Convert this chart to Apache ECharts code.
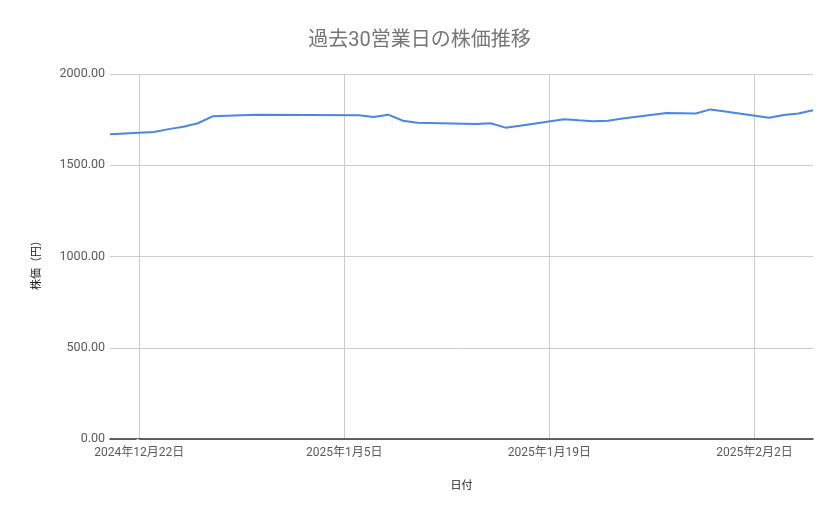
<!DOCTYPE html>
<html>
<head>
<meta charset="utf-8">
<script src="https://cdn.jsdelivr.net/npm/echarts@6/dist/echarts.min.js"></script>
<style>
html,body{margin:0;padding:0;background:#fff;}
#chart{width:839px;height:519px;}
</style>
</head>
<body>
<div id="chart"></div>
<script>
const titleText = '過去30営業日の株価推移';
const xAxisName = '日付';
const yAxisName = '株価（円）';
const dates = ['2024-12-20','2024-12-23','2024-12-24','2024-12-25','2024-12-26','2024-12-27','2024-12-30',
  '2025-01-06','2025-01-07','2025-01-08','2025-01-09','2025-01-10','2025-01-14','2025-01-15','2025-01-16','2025-01-17',
  '2025-01-20','2025-01-21','2025-01-22','2025-01-23','2025-01-24','2025-01-27','2025-01-28','2025-01-29','2025-01-30','2025-01-31',
  '2025-02-03','2025-02-04','2025-02-05','2025-02-06'];
const prices = [1670,1682,1698,1711,1730,1768,1777,
  1774,1764,1777,1744,1733,1726,1730,1706,1717,
  1752,1746,1741,1744,1756,1786,1785,1784,1806,1795,
  1760,1775,1784,1801];
const tickDates = ['2024-12-22','2025-01-05','2025-01-19','2025-02-02'];
const axisStart = '2024-12-20';
const axisEnd = '2025-02-06';
const yTicks = [0, 500, 1000, 1500, 2000];

const DAY = 86400000;
const origin = Date.UTC(2024, 11, 22);
function toDay(s) {
  const p = s.split('-').map(Number);
  return Math.round((Date.UTC(p[0], p[1] - 1, p[2]) - origin) / DAY);
}
function fmtDay(v) {
  const d = new Date(origin + v * DAY);
  return d.getUTCFullYear() + '年' + (d.getUTCMonth() + 1) + '月' + d.getUTCDate() + '日';
}
const seriesData = dates.map((d, i) => [toDay(d), prices[i]]);
const tickValues = tickDates.map(toDay);

const FONT = 'Roboto, "Noto Sans CJK JP", sans-serif';
const chart = echarts.init(document.getElementById('chart'));
chart.setOption({
  animation: false,
  textStyle: { fontFamily: FONT },
  title: {
    text: titleText,
    left: 'center',
    top: 26,
    textStyle: { fontSize: 20, fontWeight: 'normal', color: '#757575', fontFamily: FONT }
  },
  grid: { left: 110, right: 26, top: 74, bottom: 80, containLabel: false },
  xAxis: {
    type: 'value',
    min: toDay(axisStart),
    max: toDay(axisEnd),
    name: xAxisName,
    nameLocation: 'middle',
    nameGap: 42,
    nameTextStyle: { fontSize: 11, color: '#222' },
    axisLine: { show: true, lineStyle: { color: '#333', width: 1.5 } },
    axisTick: { show: false, customValues: tickValues },
    axisLabel: { customValues: tickValues, formatter: fmtDay, color: '#5a5a5a', fontSize: 12, margin: 8 },
    splitLine: { show: true, lineStyle: { color: '#cccccc', width: 1 } }
  },
  yAxis: {
    type: 'value',
    min: yTicks[0],
    max: yTicks[yTicks.length - 1],
    interval: yTicks[1] - yTicks[0],
    name: yAxisName,
    nameLocation: 'middle',
    nameGap: 67,
    nameTextStyle: { fontSize: 11, color: '#222', padding: [0, 12, 0, 0] },
    axisLine: { show: false },
    axisTick: { show: true, length: 3, lineStyle: { color: '#cccccc' } },
    axisLabel: { formatter: v => v.toFixed(2), color: '#5a5a5a', fontSize: 12.5, margin: 5 },
    splitLine: { show: true, lineStyle: { color: '#cccccc', width: 1 } }
  },
  series: [{
    type: 'line',
    data: seriesData,
    showSymbol: false,
    symbol: 'none',
    lineStyle: { color: '#4a86e8', width: 2 },
    itemStyle: { color: '#4a86e8' }
  }]
});
</script>
</body>
</html>
